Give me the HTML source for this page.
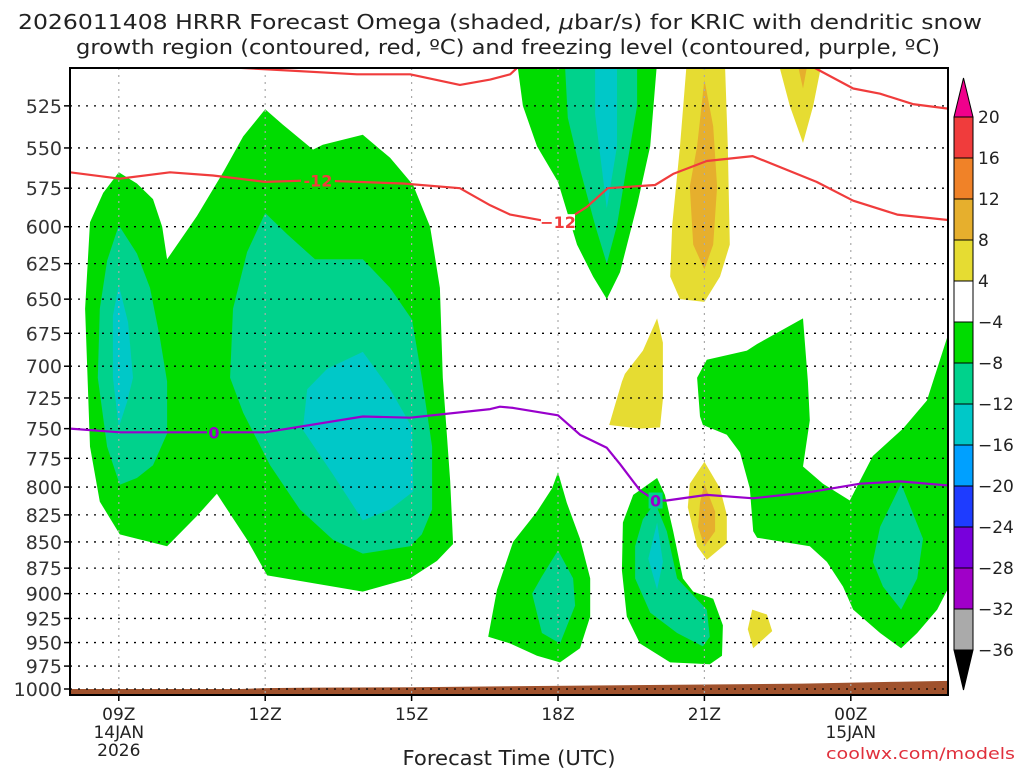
<!DOCTYPE html>
<html><head><meta charset="utf-8"><style>
html,body{margin:0;padding:0;background:#fff;}
svg{display:block;font-family:"DejaVu Sans","Liberation Sans",sans-serif;}
</style></head><body>
<svg id="chart" width="1024" height="768" viewBox="0 0 1024 768">
<defs><clipPath id="plotclip"><rect x="70" y="68" width="878" height="627"/></clipPath></defs>
<g font-size="20" fill="#222" text-anchor="middle">
<text x="500" y="29" textLength="964" lengthAdjust="spacingAndGlyphs">2026011408 HRRR Forecast Omega (shaded, <tspan font-style="italic">μ</tspan>bar/s) for KRIC with dendritic snow</text>
<text x="508" y="54" textLength="864" lengthAdjust="spacingAndGlyphs">growth region (contoured, red, ºC) and freezing level (contoured, purple, ºC)</text>
</g>
<g id="shading" clip-path="url(#plotclip)"></g>
<g id="grid"></g>
<g id="contours" clip-path="url(#plotclip)"></g>
<g id="axes"></g>
<g id="colorbar"></g>
<text x="509" y="765" font-size="20" fill="#222" text-anchor="middle" textLength="213" lengthAdjust="spacingAndGlyphs">Forecast Time (UTC)</text>
<text x="1015" y="759" font-size="16" fill="#e0303c" text-anchor="end" textLength="189" lengthAdjust="spacingAndGlyphs">coolwx.com/models</text>
</svg>
<script>
// ---- data (hour since 00Z 14JAN, pressure hPa) ----
const pressureTicks = [525,550,575,600,625,650,675,700,725,750,775,800,825,850,875,900,925,950,975,1000];
const timeTickHours = [9,12,15,18,21,24];
const timeTickLabels = ["09Z","12Z","15Z","18Z","21Z","00Z"];
const timeTickSub = ["14JAN\n2026","","","","","15JAN"];
const colorbarLevels = [20,16,12,8,4,-4,-8,-12,-16,-20,-24,-28,-32,-36];

const greenLeft = [[9.0,565],[9.37,572],[9.7,582],[9.89,600],[9.99,622],[10.6,593],[11.14,565],[11.55,543],[12.0,527],[12.36,536],[12.98,551],[13.18,548],[14.0,542],[14.56,556],[15.03,573],[15.38,600],[15.58,642],[15.64,709],[15.79,795],[15.85,852],[15.52,868],[14.97,885],[14.0,898],[12.04,882],[11.63,848],[11.01,806],[10.6,826],[9.99,854],[9.02,843],[8.61,813],[8.41,765],[8.31,657],[8.41,597],[8.68,578]];
const tealLeftLobe = [[9.0,599],[9.37,618],[9.64,642],[9.84,678],[9.99,712],[9.99,754],[9.7,781],[9.37,792],[9.02,798],[8.76,765],[8.57,709],[8.61,657],[8.76,623]];
const cyanLeftLobe = [[9.0,640],[9.19,667],[9.29,709],[9.17,728],[9.0,749],[8.88,709],[8.88,662]];
const tealCenter = [[12.0,591],[12.45,605],[13.02,622],[14.0,622],[14.56,642],[15.01,665],[15.21,709],[15.42,765],[15.42,820],[15.21,843],[14.97,854],[14.0,861],[13.39,848],[12.71,820],[12.1,781],[11.55,737],[11.28,709],[11.34,657],[11.63,617]];
const cyanCenter = [[14.0,689],[14.56,718],[15.01,749],[15.03,804],[14.56,820],[14.0,830],[13.39,789],[12.77,751],[12.86,718],[13.27,702]];
const greenUpper = [[17.16,500],[17.28,525],[17.57,549],[18.0,571],[18.39,612],[18.72,634],[19.0,650],[19.27,631],[19.62,586],[19.89,549],[20.03,500]];
const tealUpper = [[18.14,500],[18.2,532],[18.45,563],[18.76,599],[19.0,625],[19.21,599],[19.41,561],[19.62,525],[19.62,500]];
const cyanUpper = [[18.76,500],[18.76,530],[19.0,588],[19.21,549],[19.21,500]];
const yellowTall = [[20.64,500],[20.5,549],[20.34,599],[20.3,634],[20.5,650],[21.0,652],[21.32,634],[21.52,612],[21.48,549],[21.42,500]];
const orangeTall = [[21.0,510],[20.85,549],[20.7,574],[20.77,612],[21.0,629],[21.18,612],[21.26,574],[21.18,537]];
const yellowTopRight = [[22.51,500],[22.75,525],[23.02,547],[23.23,525],[23.41,500]];
const orangeTopRight = [[22.9,500],[23.02,515],[23.12,500]];
const yellowMid = [[20.03,664],[20.15,682],[20.15,726],[20.09,749],[19.68,750],[19.05,747],[19.31,712],[19.37,706],[19.74,688]];
const greenRight = [[21.05,695],[21.87,688],[22.08,683],[23.02,664],[23.12,712],[23.16,743],[23.02,782],[23.43,797],[23.98,812],[24.45,773],[25.07,750],[25.56,727],[26.1,664],[26.1,885],[25.77,916],[25.36,940],[25.03,956],[24.6,940],[24.05,916],[23.84,893],[23.51,869],[23.16,854],[22.08,846],[22.0,840],[21.93,801],[21.73,770],[21.46,755],[20.97,747],[20.91,740],[20.85,709]];
const tealRight = [[25.03,797],[25.48,847],[25.36,885],[25.03,916],[24.66,893],[24.45,869],[24.6,836]];
const greenBottomLeft = [[18.0,787],[18.18,814],[18.45,847],[18.66,885],[18.66,923],[18.45,956],[18.04,971],[17.57,964],[17.02,951],[16.57,944],[16.75,896],[17.08,850],[17.57,822],[17.88,801]];
const tealBottomLeft = [[18.0,858],[18.31,885],[18.35,912],[18.04,951],[17.67,940],[17.47,900],[17.67,883]];
const greenBottomMid = [[20.03,792],[20.19,807],[20.36,840],[20.56,885],[20.77,898],[21.18,905],[21.38,932],[21.36,964],[21.11,973],[20.3,971],[19.68,951],[19.41,923],[19.31,877],[19.33,832],[19.54,807]];
const tealBottomMid = [[19.99,814],[20.23,840],[20.44,885],[21.05,916],[21.11,944],[20.97,954],[20.44,940],[19.89,919],[19.58,885],[19.58,854],[19.74,829]];
const cyanBottomMid = [[20.03,832],[20.15,869],[20.03,896],[19.85,866]];
const yellowSmall = [[21.0,778],[21.32,801],[21.46,825],[21.46,851],[21.05,867],[20.85,854],[20.66,818],[20.7,797]];
const orangeSmall = [[21.0,797],[21.22,822],[21.22,840],[21.0,854],[20.87,836],[20.91,814]];
const yellowTiny = [[21.98,916],[22.28,921],[22.39,938],[22.0,956],[21.89,936]];

const redTopLeft = [[11.0,500],[11.22,503],[13.88,507],[14.97,507],[15.99,513],[16.61,510],[17.02,507],[17.3,500]];
const redTopRight = [[22.9,500],[23.23,503],[24.05,515],[24.6,518],[25.27,524],[26.1,527]];
const redMinus12 = [[8.0,565],[9.02,569],[10.05,565],[10.93,567],[12.0,571],[13.0,570],[14.82,572],[15.99,575],[16.61,586],[17.02,592],[17.69,596],[18.0,597],[18.25,594],[18.59,587],[19.02,575],[19.99,573],[20.36,566],[21.05,558],[21.99,555],[23.3,571],[24.05,583],[24.95,592],[26.1,596]];
const purpleZero = [[8.0,750],[9.02,753],[10.95,753],[12.0,753],[14.0,740],[14.97,741],[16.61,734],[16.81,732],[17.08,733],[18.0,739],[18.45,755],[19.0,766],[19.27,780],[19.68,803],[20.0,812],[20.23,812],[21.05,807],[22.0,810],[23.23,804],[24.19,797],[25.01,795],[26.1,799]];
const groundHours = [8,11.5,12,13,15,17,19,21,23,25,26.1];
const groundPressure = [1000,1000,999,998.5,998,997,996,995,994,992,991];

// ---- axis functions ----
const X = h => 70 + (h - 8) * 48.8;
const Y = p => 689 - 905 * Math.log(1000 / p);
const NS = "http://www.w3.org/2000/svg";
function mk(tag, attrs, parent){const e=document.createElementNS(NS,tag);for(const k in attrs)e.setAttribute(k,attrs[k]);parent.appendChild(e);return e;}
function pts(a){return a.map(q=>X(q[0]).toFixed(1)+","+Y(q[1]).toFixed(1)).join(" ");}

const GREEN="#00dc00",TEAL="#00d28c",CYAN="#00c8c8",YEL="#e6dc32",GOLD="#e6af2d";
const layers = [
 [greenLeft,GREEN,"omega-green-left"],[tealLeftLobe,TEAL,"omega-teal-left"],[cyanLeftLobe,CYAN,"omega-cyan-left"],
 [tealCenter,TEAL,"omega-teal-center"],[cyanCenter,CYAN,"omega-cyan-center"],
 [greenUpper,GREEN,"omega-green-upper"],[tealUpper,TEAL,"omega-teal-upper"],[cyanUpper,CYAN,"omega-cyan-upper"],
 [yellowTall,YEL,"omega-yellow-tall"],[orangeTall,GOLD,"omega-gold-tall"],
 [yellowTopRight,YEL,"omega-yellow-top-right"],[orangeTopRight,GOLD,"omega-gold-top-right"],
 [yellowMid,YEL,"omega-yellow-mid"],
 [greenRight,GREEN,"omega-green-right"],[tealRight,TEAL,"omega-teal-right"],
 [greenBottomLeft,GREEN,"omega-green-bottom-left"],[tealBottomLeft,TEAL,"omega-teal-bottom-left"],
 [greenBottomMid,GREEN,"omega-green-bottom-mid"],[tealBottomMid,TEAL,"omega-teal-bottom-mid"],[cyanBottomMid,CYAN,"omega-cyan-bottom-mid"],
 [yellowSmall,YEL,"omega-yellow-small"],[orangeSmall,GOLD,"omega-gold-small"],[yellowTiny,YEL,"omega-yellow-tiny"]
];
const shading = document.getElementById("shading");
layers.forEach(L=>{
 const e = mk("polygon",{points:pts(L[0]),fill:L[1]},shading);
 
 
});
{
 let d = "M"+X(groundHours[0])+","+Y(1010);
 groundHours.forEach((h,i)=>{d+=" L"+X(h).toFixed(1)+","+Y(groundPressure[i]).toFixed(1);});
 d += " L"+X(groundHours[groundHours.length-1])+","+Y(1010)+" Z";
 const g = mk("path",{d:d,fill:"#a0522d"},shading);
 
 
}
const grid = document.getElementById("grid");
timeTickHours.forEach(h=>{
 const l = mk("line",{x1:X(h),x2:X(h),y1:68,y2:695,stroke:"#aaa","stroke-width":1.2,"stroke-dasharray":"2,5"},grid);
 
 
});
pressureTicks.forEach(p=>{
 const l = mk("line",{x1:70,x2:948,y1:Y(p),y2:Y(p),stroke:"#000","stroke-width":1.3,"stroke-dasharray":"2,6"},grid);
 
 
});
const cont = document.getElementById("contours");
function line(a,color,name){
 const e = mk("polyline",{points:pts(a),fill:"none",stroke:color,"stroke-width":2.2,"stroke-linejoin":"round"},cont);
 
 
}
line(redTopLeft,"#f03c3c","dendritic-contour-top-left");
line(redTopRight,"#f03c3c","dendritic-contour-top-right");
line(redMinus12,"#f03c3c","dendritic-contour-minus12");
line(purpleZero,"#9900cc","freezing-level-contour");
function clabel(txt,h,p,color,name,bgfill){
 const w = txt.length*10+4;
 const bg = mk("rect",{x:X(h)-w/2,y:Y(p)-8,width:w,height:16,fill:bgfill},cont);
 
 
 const t = mk("text",{x:X(h),y:Y(p)+6,"font-size":16,"font-weight":"bold",fill:color,"text-anchor":"middle"},cont);
 t.textContent = txt;
 
 
}
clabel("-12",13.08,570,"#f03c3c","contour-label-minus12-a",GREEN);
clabel("−12",18.0,597,"#f03c3c","contour-label-minus12-b","#fff");
clabel("0",10.95,753,"#9900cc","contour-label-zero-a",GREEN);
clabel("0",20.0,812,"#9900cc","contour-label-zero-b",TEAL);
const axes = document.getElementById("axes");
{
 const f = mk("rect",{x:70,y:68,width:878,height:627,fill:"none",stroke:"#000","stroke-width":2},axes);
 
 
}
pressureTicks.forEach(p=>{
 mk("line",{x1:64,x2:70,y1:Y(p),y2:Y(p),stroke:"#000","stroke-width":1.5},axes);
 const t = mk("text",{x:62,y:Y(p)+7,"font-size":19,fill:"#333","text-anchor":"end"},axes);
 t.textContent = p;
 
 
});
timeTickHours.forEach((h,i)=>{
 mk("line",{x1:X(h),x2:X(h),y1:695,y2:701,stroke:"#000","stroke-width":1.5},axes);
 const t = mk("text",{x:X(h),y:720,"font-size":17,fill:"#222","text-anchor":"middle"},axes);
 t.textContent = timeTickLabels[i];
 
 
 timeTickSub[i].split("\n").forEach((s,j)=>{
  if(!s) return;
  const u = mk("text",{x:X(h),y:738+j*18,"font-size":17,fill:"#222","text-anchor":"middle"},axes);
  u.textContent = s;
  
  
 });
});
const cb = document.getElementById("colorbar");
const cbColors = ["#f03c3c","#f08228","#e6af2d","#e6dc32","#ffffff","#00dc00","#00d28c","#00c8c8","#00a0ff","#1e3cff","#7800dc","#a000c8","#aaaaaa"];
const cbTop = 117, cbStep = (650-117)/(colorbarLevels.length-1), cbX=954, cbW=19;
{
 const a = mk("polygon",{points:`${cbX},${cbTop} ${cbX+cbW},${cbTop} ${cbX+cbW/2},78`,fill:"#f0008c",stroke:"#000","stroke-width":1},cb);
 
 
}
cbColors.forEach((c,i)=>{
 const r = mk("rect",{x:cbX,y:cbTop+i*cbStep,width:cbW,height:cbStep,fill:c,stroke:"#000","stroke-width":1},cb);
 
 
});
{
 const a = mk("polygon",{points:`${cbX},650 ${cbX+cbW},650 ${cbX+cbW/2},690`,fill:"#000",stroke:"#000","stroke-width":1},cb);
 
 
}
colorbarLevels.forEach((v,i)=>{
 const t = mk("text",{x:978,y:cbTop+i*cbStep+6,"font-size":17,fill:"#222"},cb);
 t.textContent = v<0 ? "−"+Math.abs(v) : String(v);
 
 
});
</script>
</body></html>
